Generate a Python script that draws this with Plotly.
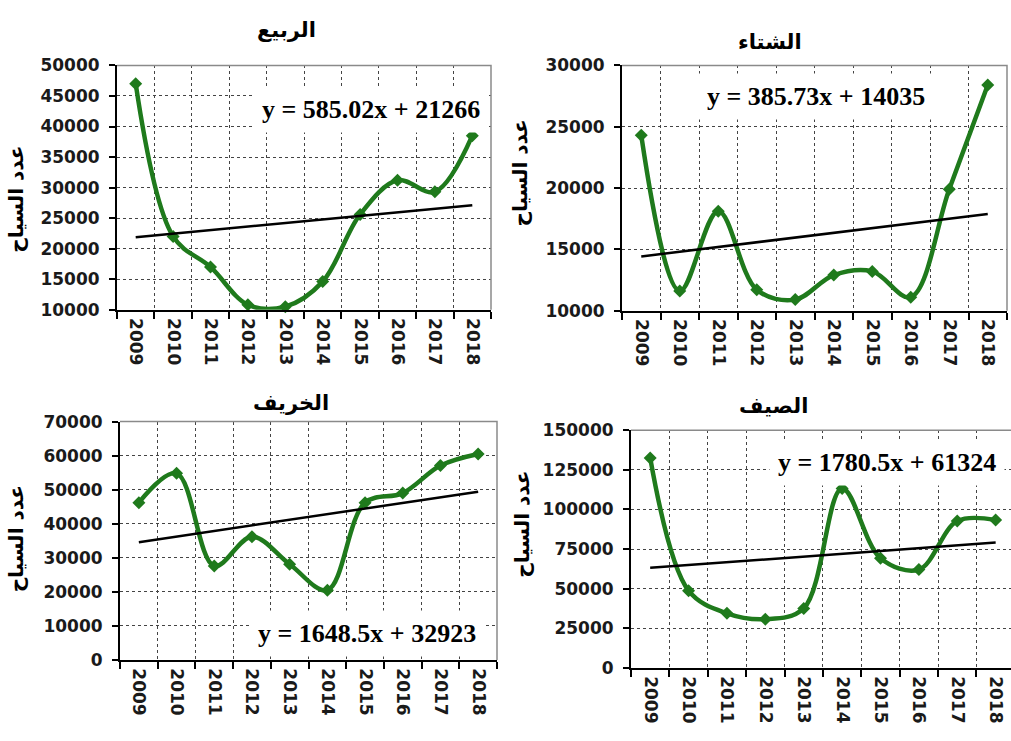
import plotly.graph_objects as go

# Tourist counts by season, 2009-2018
years = ["2009", "2010", "2011", "2012", "2013", "2014", "2015", "2016", "2017", "2018"]
spring = [47000, 22000, 17000, 10800, 10500, 14600, 25600, 31200, 29300, 38500]
winter = [24300, 11600, 18100, 11700, 10900, 12900, 13200, 11100, 19900, 28400]
autumn = [46200, 54800, 27600, 36200, 28100, 20500, 46200, 49000, 57100, 60500]
summer = [132600, 48700, 34400, 30700, 37500, 113200, 69200, 62000, 92700, 93300]

season_titles = ["الربيع", "الشتاء", "الخريف", "الصيف"]
trend_slopes = [585.02, 385.73, 1648.5, 1780.5]
trend_intercepts = [21266, 14035, 32923, 61324]
y_title = "عدد السياح"

series = [spring, winter, autumn, summer]

W, H = 1011, 741
GREEN = "#1f7a1c"
TICK_FONT = dict(family="DejaVu Sans", size=17, color="#1a1a1a", weight="bold")

# panel layout in pixels: (left, right, top, bottom)
panels = [
    (117, 491, 57, 308),
    (622, 1007, 57, 309),
    (120, 497, 423, 668),
    (631, 1011, 432, 676),
]
y_ranges = [(10000, 50000, 5000), (10000, 30000, 5000), (0, 70000, 10000), (0, 150000, 25000)]
x_ranges = [[-0.5, 9.5], [-0.5, 9.5], [-0.5, 9.5], [-0.5, 9.4]]
title_pos = [(286, 21), (770, 33), (291, 404), (773, 407)]
ytitle_pos = [(16, 195), (520, 168), (16, 544), (522, 529)]
eq_pos = [(371, 102), (816, 89), (367, 641), (887, 465)]

fig = go.Figure()
layout = dict(
    width=W, height=H,
    margin=dict(l=0, r=0, t=0, b=0),
    paper_bgcolor="white", plot_bgcolor="white",
    showlegend=False,
    annotations=[], shapes=[],
)

for i, vals in enumerate(series):
    n = "" if i == 0 else str(i + 1)
    xa, ya = "x" + n, "y" + n
    left, right, top, bottom = panels[i]

    # smoothed data line with diamond markers
    fig.add_trace(go.Scatter(
        x=years, y=vals, xaxis=xa, yaxis=ya, mode="lines+markers",
        line=dict(color=GREEN, width=4.5, shape="spline", smoothing=1.0),
        marker=dict(symbol="diamond", size=10, color=GREEN),
        cliponaxis=False,
    ))
    # linear trend line
    a, b = trend_slopes[i], trend_intercepts[i]
    trend = [a * (k + 1) + b for k in range(len(years))]
    fig.add_trace(go.Scatter(
        x=years, y=trend, xaxis=xa, yaxis=ya, mode="lines",
        line=dict(color="black", width=2.5),
    ))

    ymin, ymax, dt = y_ranges[i]
    layout["xaxis" + n] = dict(
        domain=[left / W, min(right / W, 1.0)],
        anchor=ya, type="category", range=x_ranges[i],
        tickson="boundaries", ticks="outside", ticklen=7, tickwidth=2, tickcolor="black",
        showline=True, linecolor="black", linewidth=2,
        showgrid=True, griddash="dot", gridcolor="#444444", gridwidth=1,
        tickangle=90, tickfont=TICK_FONT, ticklabelstandoff=3, fixedrange=True,
    )
    layout["yaxis" + n] = dict(
        domain=[1 - bottom / H, 1 - top / H],
        anchor=xa, range=[ymin, ymax], dtick=dt, tick0=ymin, tickformat="d",
        ticks="outside", ticklen=6, tickwidth=2, tickcolor="black",
        showline=True, linecolor="black", linewidth=2,
        showgrid=True, griddash="dot", gridcolor="#444444", gridwidth=1,
        zeroline=False, tickfont=TICK_FONT, ticklabelstandoff=6,
        fixedrange=True,
    )

    # grey frame on the top and right edges
    if right < W:
        layout["shapes"].append(dict(
            type="path", xref=xa + " domain", yref=ya + " domain",
            path="M 0,1 L 1,1 L 1,0", line=dict(color="#8a8a8a", width=1.5), layer="above",
        ))
    else:
        layout["shapes"].append(dict(
            type="line", xref=xa + " domain", yref=ya + " domain",
            x0=0, x1=1, y0=1, y1=1, line=dict(color="#8a8a8a", width=1.5), layer="above",
        ))

    tx, ty = title_pos[i]
    layout["annotations"].append(dict(
        text=season_titles[i], xref="paper", yref="paper",
        x=tx / W, y=1 - ty / H, xanchor="center", yanchor="middle", showarrow=False,
        font=dict(family="DejaVu Sans", size=21, color="black", weight="bold"),
    ))
    yx, yy = ytitle_pos[i]
    layout["annotations"].append(dict(
        text=y_title, xref="paper", yref="paper", textangle=-90,
        x=yx / W, y=1 - yy / H, xanchor="center", yanchor="middle", showarrow=False,
        font=dict(family="DejaVu Sans", size=20, color="black", weight="bold"),
    ))
    ex, ey = eq_pos[i]
    layout["annotations"].append(dict(
        text=f"y = {a}x + {b}", xref="paper", yref="paper",
        x=ex / W, y=1 - ey / H, xanchor="center", yanchor="middle", showarrow=False,
        bgcolor="white", borderpad=8,
        font=dict(family="Liberation Serif", size=26, color="black", weight="bold"),
    ))

fig.update_layout(**layout)
fig.write_html("out.html")
